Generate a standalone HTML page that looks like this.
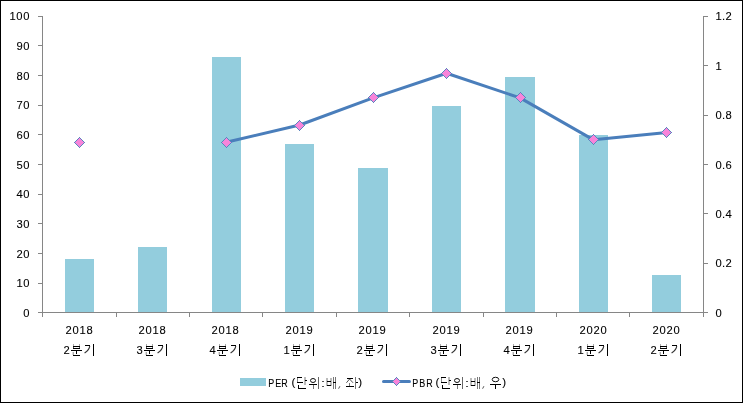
<!DOCTYPE html><html><head><meta charset="utf-8"><style>
html,body{margin:0;padding:0;background:#fff;overflow:hidden}
svg{display:block;position:absolute;left:0;top:0;will-change:transform}
text{font-family:"Liberation Sans",sans-serif;fill:#000;stroke:#000;stroke-width:0.1px}
.c{shape-rendering:crispEdges}
</style></head><body>
<svg width="743" height="403" viewBox="0 0 743 403">
<rect x="0" y="0" width="743" height="403" fill="#fff"/>
<rect class="c" x="0.5" y="0.5" width="742" height="402" fill="none" stroke="#000" stroke-width="1"/>
<g class="c" fill="#93CDDD">
<rect x="65" y="259" width="29" height="53"/>
<rect x="138" y="247" width="29" height="65"/>
<rect x="212" y="57" width="29" height="255"/>
<rect x="285" y="144" width="29" height="168"/>
<rect x="358" y="168" width="30" height="144"/>
<rect x="432" y="106" width="29" height="206"/>
<rect x="505" y="77" width="30" height="235"/>
<rect x="579" y="135" width="29" height="177"/>
<rect x="652" y="275" width="29" height="37"/>
</g>
<g class="c" fill="#868686">
<rect x="42" y="16" width="1" height="297"/>
<rect x="703" y="16" width="1" height="297"/>
<rect x="42" y="312" width="662" height="1"/>
<rect x="38" y="16" width="4" height="1"/>
<rect x="38" y="45" width="4" height="1"/>
<rect x="38" y="75" width="4" height="1"/>
<rect x="38" y="105" width="4" height="1"/>
<rect x="38" y="134" width="4" height="1"/>
<rect x="38" y="164" width="4" height="1"/>
<rect x="38" y="194" width="4" height="1"/>
<rect x="38" y="223" width="4" height="1"/>
<rect x="38" y="253" width="4" height="1"/>
<rect x="38" y="283" width="4" height="1"/>
<rect x="38" y="312" width="4" height="1"/>
<rect x="704" y="16" width="4" height="1"/>
<rect x="704" y="65" width="4" height="1"/>
<rect x="704" y="115" width="4" height="1"/>
<rect x="704" y="164" width="4" height="1"/>
<rect x="704" y="213" width="4" height="1"/>
<rect x="704" y="263" width="4" height="1"/>
<rect x="704" y="312" width="4" height="1"/>
<rect x="42" y="313" width="1" height="4"/>
<rect x="116" y="313" width="1" height="4"/>
<rect x="189" y="313" width="1" height="4"/>
<rect x="262" y="313" width="1" height="4"/>
<rect x="336" y="313" width="1" height="4"/>
<rect x="409" y="313" width="1" height="4"/>
<rect x="483" y="313" width="1" height="4"/>
<rect x="556" y="313" width="1" height="4"/>
<rect x="629" y="313" width="1" height="4"/>
<rect x="703" y="313" width="1" height="4"/>
</g>
<polyline fill="none" stroke="#4A7EBB" stroke-width="3" stroke-linejoin="round" stroke-linecap="round" points="226.18,142.30 299.64,125.03 373.12,97.90 446.58,73.23 520.06,97.90 593.52,139.83 667.00,132.43"/>
<path class="c" fill="#F884DA" d="M79 138h1v1h-1zM78 139h3v1h-3zM77 140h5v1h-5zM76 141h7v1h-7zM75 142h9v1h-9zM76 143h7v1h-7zM77 144h5v1h-5zM78 145h3v1h-3zM79 146h1v1h-1z"/><path class="c" fill="#5B86C0" d="M79 137h1v1h-1zM78 138h1v1h-1zM80 138h1v1h-1zM77 139h1v1h-1zM81 139h1v1h-1zM76 140h1v1h-1zM82 140h1v1h-1zM75 141h1v1h-1zM83 141h1v1h-1zM74 142h1v1h-1zM84 142h1v1h-1zM75 143h1v1h-1zM83 143h1v1h-1zM76 144h1v1h-1zM82 144h1v1h-1zM77 145h1v1h-1zM81 145h1v1h-1zM78 146h1v1h-1zM80 146h1v1h-1zM79 147h1v1h-1z"/>
<path class="c" fill="#F884DA" d="M226 138h1v1h-1zM225 139h3v1h-3zM224 140h5v1h-5zM223 141h7v1h-7zM222 142h9v1h-9zM223 143h7v1h-7zM224 144h5v1h-5zM225 145h3v1h-3zM226 146h1v1h-1z"/><path class="c" fill="#5B86C0" d="M226 137h1v1h-1zM225 138h1v1h-1zM227 138h1v1h-1zM224 139h1v1h-1zM228 139h1v1h-1zM223 140h1v1h-1zM229 140h1v1h-1zM222 141h1v1h-1zM230 141h1v1h-1zM221 142h1v1h-1zM231 142h1v1h-1zM222 143h1v1h-1zM230 143h1v1h-1zM223 144h1v1h-1zM229 144h1v1h-1zM224 145h1v1h-1zM228 145h1v1h-1zM225 146h1v1h-1zM227 146h1v1h-1zM226 147h1v1h-1z"/>
<path class="c" fill="#F884DA" d="M299 121h1v1h-1zM298 122h3v1h-3zM297 123h5v1h-5zM296 124h7v1h-7zM295 125h9v1h-9zM296 126h7v1h-7zM297 127h5v1h-5zM298 128h3v1h-3zM299 129h1v1h-1z"/><path class="c" fill="#5B86C0" d="M299 120h1v1h-1zM298 121h1v1h-1zM300 121h1v1h-1zM297 122h1v1h-1zM301 122h1v1h-1zM296 123h1v1h-1zM302 123h1v1h-1zM295 124h1v1h-1zM303 124h1v1h-1zM294 125h1v1h-1zM304 125h1v1h-1zM295 126h1v1h-1zM303 126h1v1h-1zM296 127h1v1h-1zM302 127h1v1h-1zM297 128h1v1h-1zM301 128h1v1h-1zM298 129h1v1h-1zM300 129h1v1h-1zM299 130h1v1h-1z"/>
<path class="c" fill="#F884DA" d="M373 93h1v1h-1zM372 94h3v1h-3zM371 95h5v1h-5zM370 96h7v1h-7zM369 97h9v1h-9zM370 98h7v1h-7zM371 99h5v1h-5zM372 100h3v1h-3zM373 101h1v1h-1z"/><path class="c" fill="#5B86C0" d="M373 92h1v1h-1zM372 93h1v1h-1zM374 93h1v1h-1zM371 94h1v1h-1zM375 94h1v1h-1zM370 95h1v1h-1zM376 95h1v1h-1zM369 96h1v1h-1zM377 96h1v1h-1zM368 97h1v1h-1zM378 97h1v1h-1zM369 98h1v1h-1zM377 98h1v1h-1zM370 99h1v1h-1zM376 99h1v1h-1zM371 100h1v1h-1zM375 100h1v1h-1zM372 101h1v1h-1zM374 101h1v1h-1zM373 102h1v1h-1z"/>
<path class="c" fill="#F884DA" d="M446 69h1v1h-1zM445 70h3v1h-3zM444 71h5v1h-5zM443 72h7v1h-7zM442 73h9v1h-9zM443 74h7v1h-7zM444 75h5v1h-5zM445 76h3v1h-3zM446 77h1v1h-1z"/><path class="c" fill="#5B86C0" d="M446 68h1v1h-1zM445 69h1v1h-1zM447 69h1v1h-1zM444 70h1v1h-1zM448 70h1v1h-1zM443 71h1v1h-1zM449 71h1v1h-1zM442 72h1v1h-1zM450 72h1v1h-1zM441 73h1v1h-1zM451 73h1v1h-1zM442 74h1v1h-1zM450 74h1v1h-1zM443 75h1v1h-1zM449 75h1v1h-1zM444 76h1v1h-1zM448 76h1v1h-1zM445 77h1v1h-1zM447 77h1v1h-1zM446 78h1v1h-1z"/>
<path class="c" fill="#F884DA" d="M520 93h1v1h-1zM519 94h3v1h-3zM518 95h5v1h-5zM517 96h7v1h-7zM516 97h9v1h-9zM517 98h7v1h-7zM518 99h5v1h-5zM519 100h3v1h-3zM520 101h1v1h-1z"/><path class="c" fill="#5B86C0" d="M520 92h1v1h-1zM519 93h1v1h-1zM521 93h1v1h-1zM518 94h1v1h-1zM522 94h1v1h-1zM517 95h1v1h-1zM523 95h1v1h-1zM516 96h1v1h-1zM524 96h1v1h-1zM515 97h1v1h-1zM525 97h1v1h-1zM516 98h1v1h-1zM524 98h1v1h-1zM517 99h1v1h-1zM523 99h1v1h-1zM518 100h1v1h-1zM522 100h1v1h-1zM519 101h1v1h-1zM521 101h1v1h-1zM520 102h1v1h-1z"/>
<path class="c" fill="#F884DA" d="M593 135h1v1h-1zM592 136h3v1h-3zM591 137h5v1h-5zM590 138h7v1h-7zM589 139h9v1h-9zM590 140h7v1h-7zM591 141h5v1h-5zM592 142h3v1h-3zM593 143h1v1h-1z"/><path class="c" fill="#5B86C0" d="M593 134h1v1h-1zM592 135h1v1h-1zM594 135h1v1h-1zM591 136h1v1h-1zM595 136h1v1h-1zM590 137h1v1h-1zM596 137h1v1h-1zM589 138h1v1h-1zM597 138h1v1h-1zM588 139h1v1h-1zM598 139h1v1h-1zM589 140h1v1h-1zM597 140h1v1h-1zM590 141h1v1h-1zM596 141h1v1h-1zM591 142h1v1h-1zM595 142h1v1h-1zM592 143h1v1h-1zM594 143h1v1h-1zM593 144h1v1h-1z"/>
<path class="c" fill="#F884DA" d="M666 128h1v1h-1zM665 129h3v1h-3zM664 130h5v1h-5zM663 131h7v1h-7zM662 132h9v1h-9zM663 133h7v1h-7zM664 134h5v1h-5zM665 135h3v1h-3zM666 136h1v1h-1z"/><path class="c" fill="#5B86C0" d="M666 127h1v1h-1zM665 128h1v1h-1zM667 128h1v1h-1zM664 129h1v1h-1zM668 129h1v1h-1zM663 130h1v1h-1zM669 130h1v1h-1zM662 131h1v1h-1zM670 131h1v1h-1zM661 132h1v1h-1zM671 132h1v1h-1zM662 133h1v1h-1zM670 133h1v1h-1zM663 134h1v1h-1zM669 134h1v1h-1zM664 135h1v1h-1zM668 135h1v1h-1zM665 136h1v1h-1zM667 136h1v1h-1zM666 137h1v1h-1z"/>
<text x="30.37" y="20" font-size="11.2" letter-spacing="0.77" text-anchor="end">100</text>
<text x="30.37" y="50" font-size="11.2" letter-spacing="0.77" text-anchor="end">90</text>
<text x="30.37" y="80" font-size="11.2" letter-spacing="0.77" text-anchor="end">80</text>
<text x="30.37" y="109" font-size="11.2" letter-spacing="0.77" text-anchor="end">70</text>
<text x="30.37" y="139" font-size="11.2" letter-spacing="0.77" text-anchor="end">60</text>
<text x="30.37" y="169" font-size="11.2" letter-spacing="0.77" text-anchor="end">50</text>
<text x="30.37" y="198" font-size="11.2" letter-spacing="0.77" text-anchor="end">40</text>
<text x="30.37" y="228" font-size="11.2" letter-spacing="0.77" text-anchor="end">30</text>
<text x="30.37" y="258" font-size="11.2" letter-spacing="0.77" text-anchor="end">20</text>
<text x="30.37" y="287" font-size="11.2" letter-spacing="0.77" text-anchor="end">10</text>
<text x="30.37" y="317" font-size="11.2" letter-spacing="0.77" text-anchor="end">0</text>
<text x="715.6 722.1 725.6" y="20" font-size="11.2">1.2</text>
<text x="715.6" y="70" font-size="11.2">1</text>
<text x="715.6 722.1 725.6" y="119" font-size="11.2">0.8</text>
<text x="715.6 722.1 725.6" y="169" font-size="11.2">0.6</text>
<text x="715.6 722.1 725.6" y="218" font-size="11.2">0.4</text>
<text x="715.6 722.1 725.6" y="267" font-size="11.2">0.2</text>
<text x="715.6" y="317" font-size="11.2">0</text>
<text x="65.55" y="334" font-size="11.2" letter-spacing="0.77">2018</text>
<text x="63.55" y="354" font-size="11.2">2</text>
<g class="c"><rect x="73" y="344" width="1" height="2" fill="#aaa"/><rect x="79" y="344" width="1" height="2" fill="#aaa"/><rect x="73" y="346" width="1" height="3" fill="#555"/><rect x="79" y="346" width="1" height="3" fill="#555"/><rect x="73" y="346" width="7" height="1" fill="#000"/><rect x="73" y="348" width="7" height="1" fill="#000"/><rect x="71" y="350" width="11" height="1" fill="#000"/><rect x="76" y="350" width="1" height="4" fill="#000"/><rect x="73" y="352" width="1" height="3" fill="#aaa"/><rect x="72" y="352" width="1" height="3" fill="#ddd"/><rect x="73" y="355" width="7" height="1" fill="#000"/></g>
<g class="c"><rect x="85" y="345" width="5" height="1" fill="#000"/><rect x="93" y="344" width="1" height="12" fill="#000"/></g><path d="M89.7 346Q89.5 349.8 84.6 352.9" fill="none" stroke="#333" stroke-width="1.15"/>
<text x="138.55" y="334" font-size="11.2" letter-spacing="0.77">2018</text>
<text x="136.55" y="354" font-size="11.2">3</text>
<g class="c"><rect x="146" y="344" width="1" height="2" fill="#aaa"/><rect x="152" y="344" width="1" height="2" fill="#aaa"/><rect x="146" y="346" width="1" height="3" fill="#555"/><rect x="152" y="346" width="1" height="3" fill="#555"/><rect x="146" y="346" width="7" height="1" fill="#000"/><rect x="146" y="348" width="7" height="1" fill="#000"/><rect x="144" y="350" width="11" height="1" fill="#000"/><rect x="149" y="350" width="1" height="4" fill="#000"/><rect x="146" y="352" width="1" height="3" fill="#aaa"/><rect x="145" y="352" width="1" height="3" fill="#ddd"/><rect x="146" y="355" width="7" height="1" fill="#000"/></g>
<g class="c"><rect x="158" y="345" width="5" height="1" fill="#000"/><rect x="166" y="344" width="1" height="12" fill="#000"/></g><path d="M162.7 346Q162.5 349.8 157.6 352.9" fill="none" stroke="#333" stroke-width="1.15"/>
<text x="211.55" y="334" font-size="11.2" letter-spacing="0.77">2018</text>
<text x="209.55" y="354" font-size="11.2">4</text>
<g class="c"><rect x="219" y="344" width="1" height="2" fill="#aaa"/><rect x="225" y="344" width="1" height="2" fill="#aaa"/><rect x="219" y="346" width="1" height="3" fill="#555"/><rect x="225" y="346" width="1" height="3" fill="#555"/><rect x="219" y="346" width="7" height="1" fill="#000"/><rect x="219" y="348" width="7" height="1" fill="#000"/><rect x="217" y="350" width="11" height="1" fill="#000"/><rect x="222" y="350" width="1" height="4" fill="#000"/><rect x="219" y="352" width="1" height="3" fill="#aaa"/><rect x="218" y="352" width="1" height="3" fill="#ddd"/><rect x="219" y="355" width="7" height="1" fill="#000"/></g>
<g class="c"><rect x="231" y="345" width="5" height="1" fill="#000"/><rect x="239" y="344" width="1" height="12" fill="#000"/></g><path d="M235.7 346Q235.5 349.8 230.6 352.9" fill="none" stroke="#333" stroke-width="1.15"/>
<text x="285.55" y="334" font-size="11.2" letter-spacing="0.77">2019</text>
<text x="283.55" y="354" font-size="11.2">1</text>
<g class="c"><rect x="293" y="344" width="1" height="2" fill="#aaa"/><rect x="299" y="344" width="1" height="2" fill="#aaa"/><rect x="293" y="346" width="1" height="3" fill="#555"/><rect x="299" y="346" width="1" height="3" fill="#555"/><rect x="293" y="346" width="7" height="1" fill="#000"/><rect x="293" y="348" width="7" height="1" fill="#000"/><rect x="291" y="350" width="11" height="1" fill="#000"/><rect x="296" y="350" width="1" height="4" fill="#000"/><rect x="293" y="352" width="1" height="3" fill="#aaa"/><rect x="292" y="352" width="1" height="3" fill="#ddd"/><rect x="293" y="355" width="7" height="1" fill="#000"/></g>
<g class="c"><rect x="305" y="345" width="5" height="1" fill="#000"/><rect x="313" y="344" width="1" height="12" fill="#000"/></g><path d="M309.7 346Q309.5 349.8 304.6 352.9" fill="none" stroke="#333" stroke-width="1.15"/>
<text x="358.55" y="334" font-size="11.2" letter-spacing="0.77">2019</text>
<text x="356.55" y="354" font-size="11.2">2</text>
<g class="c"><rect x="366" y="344" width="1" height="2" fill="#aaa"/><rect x="372" y="344" width="1" height="2" fill="#aaa"/><rect x="366" y="346" width="1" height="3" fill="#555"/><rect x="372" y="346" width="1" height="3" fill="#555"/><rect x="366" y="346" width="7" height="1" fill="#000"/><rect x="366" y="348" width="7" height="1" fill="#000"/><rect x="364" y="350" width="11" height="1" fill="#000"/><rect x="369" y="350" width="1" height="4" fill="#000"/><rect x="366" y="352" width="1" height="3" fill="#aaa"/><rect x="365" y="352" width="1" height="3" fill="#ddd"/><rect x="366" y="355" width="7" height="1" fill="#000"/></g>
<g class="c"><rect x="378" y="345" width="5" height="1" fill="#000"/><rect x="386" y="344" width="1" height="12" fill="#000"/></g><path d="M382.7 346Q382.5 349.8 377.6 352.9" fill="none" stroke="#333" stroke-width="1.15"/>
<text x="432.55" y="334" font-size="11.2" letter-spacing="0.77">2019</text>
<text x="430.55" y="354" font-size="11.2">3</text>
<g class="c"><rect x="440" y="344" width="1" height="2" fill="#aaa"/><rect x="446" y="344" width="1" height="2" fill="#aaa"/><rect x="440" y="346" width="1" height="3" fill="#555"/><rect x="446" y="346" width="1" height="3" fill="#555"/><rect x="440" y="346" width="7" height="1" fill="#000"/><rect x="440" y="348" width="7" height="1" fill="#000"/><rect x="438" y="350" width="11" height="1" fill="#000"/><rect x="443" y="350" width="1" height="4" fill="#000"/><rect x="440" y="352" width="1" height="3" fill="#aaa"/><rect x="439" y="352" width="1" height="3" fill="#ddd"/><rect x="440" y="355" width="7" height="1" fill="#000"/></g>
<g class="c"><rect x="452" y="345" width="5" height="1" fill="#000"/><rect x="460" y="344" width="1" height="12" fill="#000"/></g><path d="M456.7 346Q456.5 349.8 451.6 352.9" fill="none" stroke="#333" stroke-width="1.15"/>
<text x="505.55" y="334" font-size="11.2" letter-spacing="0.77">2019</text>
<text x="503.55" y="354" font-size="11.2">4</text>
<g class="c"><rect x="513" y="344" width="1" height="2" fill="#aaa"/><rect x="519" y="344" width="1" height="2" fill="#aaa"/><rect x="513" y="346" width="1" height="3" fill="#555"/><rect x="519" y="346" width="1" height="3" fill="#555"/><rect x="513" y="346" width="7" height="1" fill="#000"/><rect x="513" y="348" width="7" height="1" fill="#000"/><rect x="511" y="350" width="11" height="1" fill="#000"/><rect x="516" y="350" width="1" height="4" fill="#000"/><rect x="513" y="352" width="1" height="3" fill="#aaa"/><rect x="512" y="352" width="1" height="3" fill="#ddd"/><rect x="513" y="355" width="7" height="1" fill="#000"/></g>
<g class="c"><rect x="525" y="345" width="5" height="1" fill="#000"/><rect x="533" y="344" width="1" height="12" fill="#000"/></g><path d="M529.7 346Q529.5 349.8 524.6 352.9" fill="none" stroke="#333" stroke-width="1.15"/>
<text x="579.55" y="334" font-size="11.2" letter-spacing="0.77">2020</text>
<text x="577.55" y="354" font-size="11.2">1</text>
<g class="c"><rect x="587" y="344" width="1" height="2" fill="#aaa"/><rect x="593" y="344" width="1" height="2" fill="#aaa"/><rect x="587" y="346" width="1" height="3" fill="#555"/><rect x="593" y="346" width="1" height="3" fill="#555"/><rect x="587" y="346" width="7" height="1" fill="#000"/><rect x="587" y="348" width="7" height="1" fill="#000"/><rect x="585" y="350" width="11" height="1" fill="#000"/><rect x="590" y="350" width="1" height="4" fill="#000"/><rect x="587" y="352" width="1" height="3" fill="#aaa"/><rect x="586" y="352" width="1" height="3" fill="#ddd"/><rect x="587" y="355" width="7" height="1" fill="#000"/></g>
<g class="c"><rect x="599" y="345" width="5" height="1" fill="#000"/><rect x="607" y="344" width="1" height="12" fill="#000"/></g><path d="M603.7 346Q603.5 349.8 598.6 352.9" fill="none" stroke="#333" stroke-width="1.15"/>
<text x="652.55" y="334" font-size="11.2" letter-spacing="0.77">2020</text>
<text x="650.55" y="354" font-size="11.2">2</text>
<g class="c"><rect x="660" y="344" width="1" height="2" fill="#aaa"/><rect x="666" y="344" width="1" height="2" fill="#aaa"/><rect x="660" y="346" width="1" height="3" fill="#555"/><rect x="666" y="346" width="1" height="3" fill="#555"/><rect x="660" y="346" width="7" height="1" fill="#000"/><rect x="660" y="348" width="7" height="1" fill="#000"/><rect x="658" y="350" width="11" height="1" fill="#000"/><rect x="663" y="350" width="1" height="4" fill="#000"/><rect x="660" y="352" width="1" height="3" fill="#aaa"/><rect x="659" y="352" width="1" height="3" fill="#ddd"/><rect x="660" y="355" width="7" height="1" fill="#000"/></g>
<g class="c"><rect x="672" y="345" width="5" height="1" fill="#000"/><rect x="680" y="344" width="1" height="12" fill="#000"/></g><path d="M676.7 346Q676.5 349.8 671.6 352.9" fill="none" stroke="#333" stroke-width="1.15"/>
<rect class="c" x="240" y="378" width="26" height="8" fill="#93CDDD"/>
<text transform="translate(268.25 387) scale(0.8 1)" x="0.00 8.75 16.25" y="0" font-size="11.2" stroke="#000" stroke-width="0.2">PER</text>
<text x="291.40" y="386.2" font-size="11.5" stroke-width="0">(</text>
<g class="c"><rect x="297" y="377" width="5" height="1" fill="#000"/><rect x="297" y="378" width="1" height="4" fill="#888"/><rect x="297" y="382" width="6" height="1" fill="#000"/><rect x="304" y="377" width="2" height="8" fill="#bbb"/><rect x="305" y="380" width="2" height="1" fill="#000"/><rect x="298" y="385" width="1" height="4" fill="#000"/><rect x="298" y="388" width="8" height="1" fill="#000"/></g>
<g class="c"><rect x="309" y="384" width="8" height="1" fill="#000"/><rect x="313" y="385" width="1" height="4" fill="#777"/><rect x="318" y="377" width="1" height="12" fill="#666"/></g><ellipse cx="313" cy="380.5" rx="2.5" ry="2" fill="none" stroke="#111" stroke-width="1"/>
<rect class="c" x="322" y="381" width="2" height="1" fill="#555"/><rect class="c" x="322" y="386" width="2" height="1" fill="#555"/>
<g class="c"><rect x="326" y="378" width="2" height="8" fill="#bbb"/><rect x="330" y="378" width="2" height="8" fill="#bbb"/><rect x="327" y="381" width="4" height="1" fill="#000"/><rect x="327" y="385" width="4" height="1" fill="#000"/><rect x="333" y="377" width="1" height="12" fill="#777"/><rect x="335" y="377" width="1" height="12" fill="#777"/><rect x="333" y="382" width="3" height="1" fill="#000"/></g>
<path d="M339.9 386.2L338.6 388.7" stroke="#555" stroke-width="1" fill="none"/>
<g class="c"><rect x="347" y="378" width="6" height="1" fill="#000"/><rect x="349" y="383" width="1" height="3" fill="#777"/><rect x="346" y="386" width="8" height="1" fill="#000"/><rect x="355" y="377" width="1" height="12" fill="#777"/><rect x="356" y="382" width="2" height="1" fill="#000"/></g><path d="M349.6 379L346.4 382.8M349.6 379L353 382.8" fill="none" stroke="#555" stroke-width="1"/>
<text x="358.20" y="386.2" font-size="11.5" stroke-width="0">)</text>
<line x1="383.5" y1="381.5" x2="409.5" y2="381.5" stroke="#4A7EBB" stroke-width="3" stroke-linecap="round"/>
<path class="c" fill="#F884DA" d="M396 378h1v1h-1zM395 379h3v1h-3zM394 380h5v1h-5zM393 381h7v1h-7zM394 382h5v1h-5zM395 383h3v1h-3zM396 384h1v1h-1z"/><path class="c" fill="#5B86C0" d="M396 377h1v1h-1zM395 378h1v1h-1zM397 378h1v1h-1zM394 379h1v1h-1zM398 379h1v1h-1zM393 380h1v1h-1zM399 380h1v1h-1zM392 381h1v1h-1zM400 381h1v1h-1zM393 382h1v1h-1zM399 382h1v1h-1zM394 383h1v1h-1zM398 383h1v1h-1zM395 384h1v1h-1zM397 384h1v1h-1zM396 385h1v1h-1z"/>
<text transform="translate(412.25 387) scale(0.8 1)" x="0.00 8.75 17.50" y="0" font-size="11.2" stroke="#000" stroke-width="0.2">PBR</text>
<text x="435.40" y="386.2" font-size="11.5" stroke-width="0">(</text>
<g class="c"><rect x="441" y="377" width="5" height="1" fill="#000"/><rect x="441" y="378" width="1" height="4" fill="#888"/><rect x="441" y="382" width="6" height="1" fill="#000"/><rect x="448" y="377" width="2" height="8" fill="#bbb"/><rect x="449" y="380" width="2" height="1" fill="#000"/><rect x="442" y="385" width="1" height="4" fill="#000"/><rect x="442" y="388" width="8" height="1" fill="#000"/></g>
<g class="c"><rect x="453" y="384" width="8" height="1" fill="#000"/><rect x="457" y="385" width="1" height="4" fill="#777"/><rect x="462" y="377" width="1" height="12" fill="#666"/></g><ellipse cx="457" cy="380.5" rx="2.5" ry="2" fill="none" stroke="#111" stroke-width="1"/>
<rect class="c" x="466" y="381" width="2" height="1" fill="#555"/><rect class="c" x="466" y="386" width="2" height="1" fill="#555"/>
<g class="c"><rect x="470" y="378" width="2" height="8" fill="#bbb"/><rect x="474" y="378" width="2" height="8" fill="#bbb"/><rect x="471" y="381" width="4" height="1" fill="#000"/><rect x="471" y="385" width="4" height="1" fill="#000"/><rect x="477" y="377" width="1" height="12" fill="#777"/><rect x="479" y="377" width="1" height="12" fill="#777"/><rect x="477" y="382" width="3" height="1" fill="#000"/></g>
<path d="M483.9 386.2L482.6 388.7" stroke="#555" stroke-width="1" fill="none"/>
<g class="c"><rect x="490" y="384" width="11" height="1" fill="#000"/><rect x="495" y="384" width="1" height="5" fill="#000"/></g><ellipse cx="495.5" cy="379.5" rx="3.3" ry="2.25" fill="none" stroke="#111" stroke-width="1"/>
<text x="502.20" y="386.2" font-size="11.5" stroke-width="0">)</text>
</svg></body></html>
